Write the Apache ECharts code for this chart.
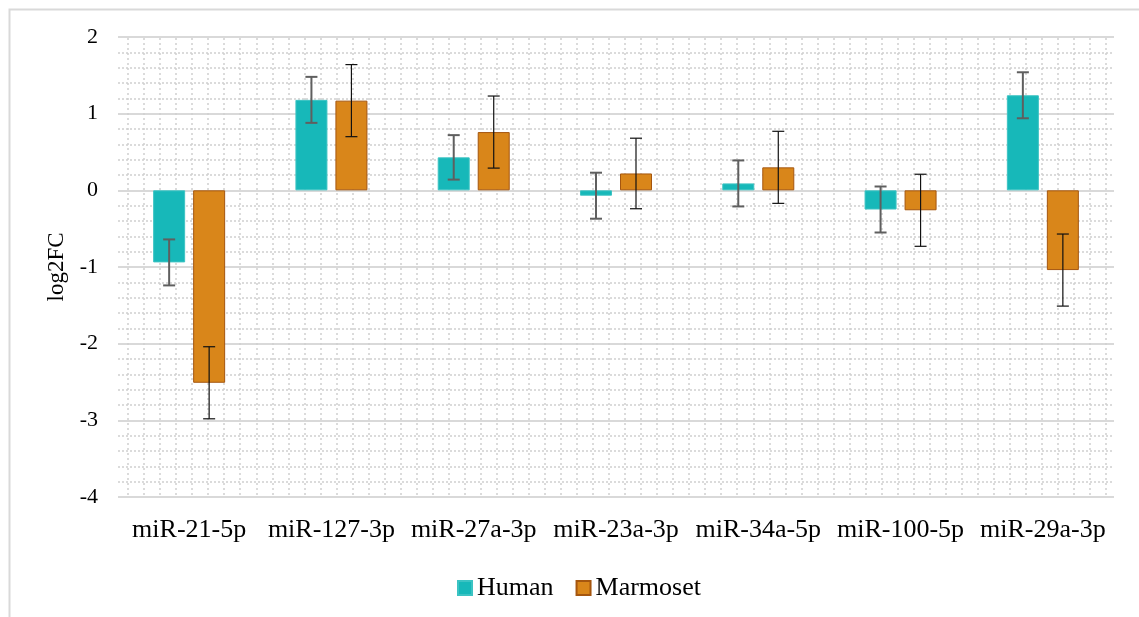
<!DOCTYPE html>
<html>
<head>
<meta charset="utf-8">
<style>
  html, body { margin: 0; padding: 0; background: #ffffff; }
  #chart { width: 1139px; height: 617px; }
</style>
<script src="https://cdn.jsdelivr.net/npm/echarts@6/dist/echarts.min.js"></script>
</head>
<body>
<div id="chart"></div>
<script>
// miRNA fold changes (log2FC) with error bars, human vs marmoset
const categories = ['miR-21-5p', 'miR-127-3p', 'miR-27a-3p', 'miR-23a-3p', 'miR-34a-5p', 'miR-100-5p', 'miR-29a-3p'];
const humanValues = [-0.94, 1.18, 0.43, -0.07, 0.09, -0.25, 1.24];
const humanErrors = [0.30, 0.30, 0.29, 0.30, 0.30, 0.30, 0.30];
const marmosetValues = [-2.51, 1.17, 0.76, 0.22, 0.30, -0.26, -1.04];
const marmosetErrors = [0.47, 0.47, 0.47, 0.46, 0.47, 0.47, 0.47];
const yTicks = [-4, -3, -2, -1, 0, 1, 2];

const FONT = "'Liberation Serif', 'Times New Roman', serif";
const BAR_W = 32;
const BAR_GAP = 8;
const HUMAN_FILL = '#17b8b9';
const HUMAN_EDGE = '#3cc3c3';
const MARM_FILL = '#d9861a';
const MARM_EDGE = '#a5560f';

// Error whiskers drawn around the centre of each bar in the pair
function errorSeries(name, values, errors, side, color, width) {
  const data = values.map((v, i) => [i, v - errors[i], v + errors[i]]);
  return {
    name: name + ' error',
    type: 'custom',
    xAxisIndex: 0,
    yAxisIndex: 0,
    z: 10,
    silent: true,
    data: data,
    renderItem: function (params, api) {
      const idx = api.value(0);
      const lo = api.coord([idx, api.value(1)]);
      const hi = api.coord([idx, api.value(2)]);
      const x = lo[0] + side * (BAR_W + BAR_GAP) / 2;
      const cap = 6;
      const style = { stroke: color, lineWidth: width, fill: null };
      return {
        type: 'group',
        children: [
          { type: 'line', shape: { x1: x, y1: lo[1], x2: x, y2: hi[1] }, style: style },
          { type: 'line', shape: { x1: x - cap, y1: lo[1], x2: x + cap, y2: lo[1] }, style: style },
          { type: 'line', shape: { x1: x - cap, y1: hi[1], x2: x + cap, y2: hi[1] }, style: style }
        ]
      };
    }
  };
}

const chart = echarts.init(document.getElementById('chart'), null, { renderer: 'canvas' });

chart.setOption({
  backgroundColor: '#ffffff',
  animation: false,
  textStyle: { fontFamily: FONT, color: '#000' },
  graphic: [{
    type: 'rect',
    left: 7,
    top: 7,
    shape: { width: 1200, height: 700 },
    style: { fill: null, stroke: '#d9d9d9', lineWidth: 2 },
    silent: true,
    z: -1
  }],
  grid: [
    // plotting area
    { left: 118, right: 25, top: 37, bottom: 120 },
    // fine vertical dotted grid behind the plot
    { left: 128, right: 33, top: 38, bottom: 121 }
  ],
  legend: {
    left: 452,
    top: 570,
    itemWidth: 14,
    itemHeight: 14,
    itemGap: 22,
    textStyle: { fontFamily: FONT, fontSize: 26, color: '#000', padding: [0, 0, 0, 0] },
    data: [
      { name: 'Human', icon: 'rect' },
      { name: 'Marmoset', icon: 'rect' }
    ]
  },
  xAxis: [
    {
      type: 'category',
      gridIndex: 0,
      data: categories,
      position: 'bottom',
      axisLine: { show: false },
      axisTick: { show: false },
      axisLabel: { fontFamily: FONT, fontSize: 26, color: '#000', margin: 20, interval: 0 },
      splitLine: { show: false }
    },
    {
      type: 'value',
      gridIndex: 1,
      min: 0,
      max: 61,
      interval: 1,
      axisLine: { show: false },
      axisTick: { show: false },
      axisLabel: { show: false },
      splitLine: { show: true, lineStyle: { color: '#cfcfcf', width: 1.5, type: [2, 3] } }
    }
  ],
  yAxis: [
    {
      type: 'value',
      gridIndex: 0,
      min: yTicks[0],
      max: yTicks[yTicks.length - 1],
      interval: 1,
      name: 'log2FC',
      nameLocation: 'middle',
      nameGap: 50,
      nameRotate: 90,
      nameTextStyle: { fontFamily: FONT, fontSize: 23, color: '#000' },
      axisLine: { show: false },
      axisTick: { show: false },
      axisLabel: { fontFamily: FONT, fontSize: 22, color: '#000', margin: 20 },
      splitLine: { show: true, lineStyle: { color: '#d9d9d9', width: 2 } },
      minorTick: { show: false, splitNumber: 5 },
      minorSplitLine: { show: true, lineStyle: { color: '#cfcfcf', width: 1.5, type: [2, 2] } }
    },
    {
      type: 'value',
      gridIndex: 1,
      min: 0,
      max: 1,
      show: false,
      splitLine: { show: false }
    }
  ],
  series: [
    {
      name: 'Human',
      type: 'bar',
      xAxisIndex: 0,
      yAxisIndex: 0,
      data: humanValues,
      barWidth: BAR_W,
      barGap: (BAR_GAP / BAR_W * 100) + '%',
      itemStyle: { color: HUMAN_FILL, borderColor: HUMAN_EDGE, borderWidth: 1 },
      z: 5
    },
    {
      name: 'Marmoset',
      type: 'bar',
      xAxisIndex: 0,
      yAxisIndex: 0,
      data: marmosetValues,
      barWidth: BAR_W,
      itemStyle: { color: MARM_FILL, borderColor: MARM_EDGE, borderWidth: 1 },
      z: 5
    },
    errorSeries('Human', humanValues, humanErrors, -1, '#5f5f5f', 2),
    errorSeries('Marmoset', marmosetValues, marmosetErrors, 1, '#111111', 1.2)
  ]
});
</script>
</body>
</html>
